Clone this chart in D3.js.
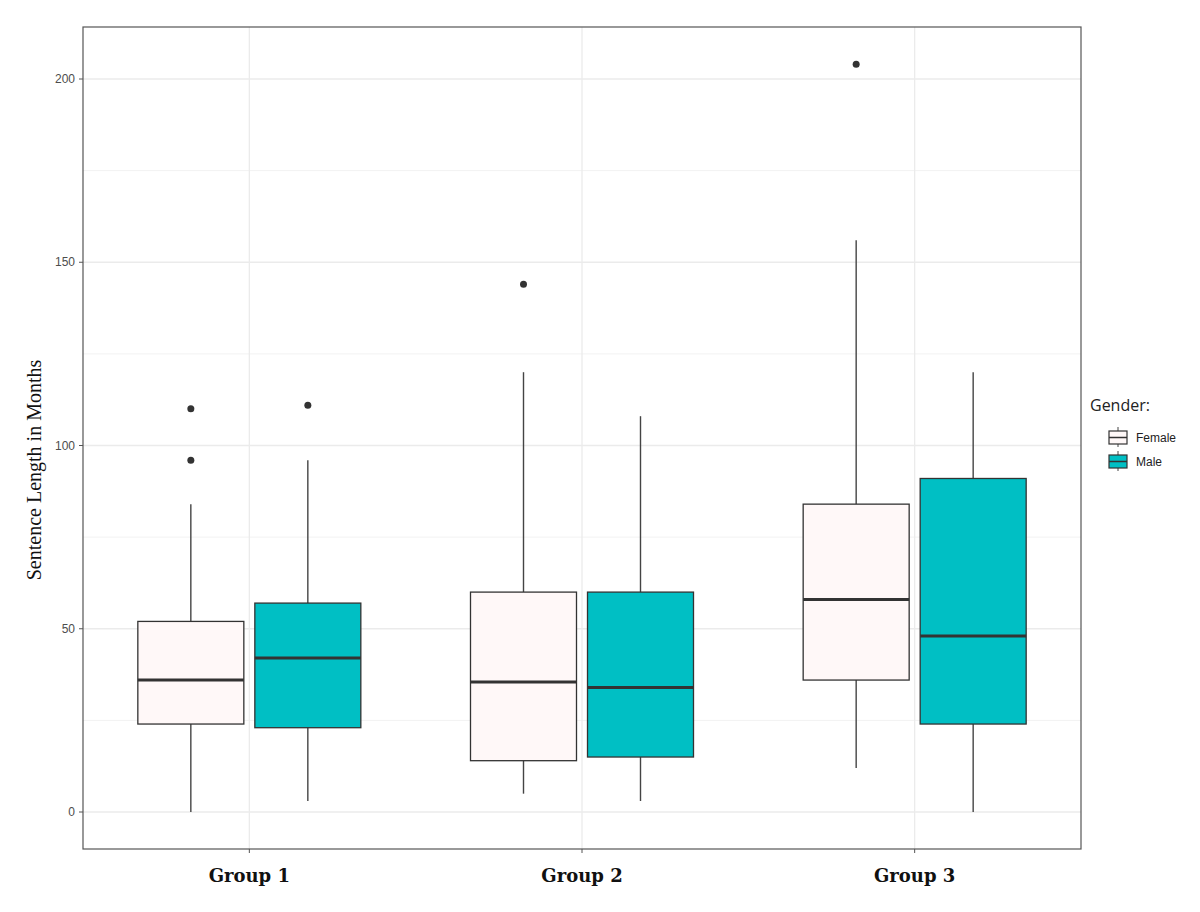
<!DOCTYPE html>
<html><head><meta charset="utf-8">
<script src="https://cdn.jsdelivr.net/npm/d3@7"></script>
<style>body{margin:0;background:#fff}</style>
</head><body>
<svg id="c" width="1200" height="912"></svg>
<script>
const groups = ["Group 1","Group 2","Group 3"];
const genders = ["Female","Male"];
const colors = ["#fff8f8","#00bfc4"];
// [group, gender, lowWhisker, q1, median, q3, highWhisker]
const boxes = [
  ["Group 1","Female",0,24,36,52,84],
  ["Group 1","Male",3,23,42,57,96],
  ["Group 2","Female",5,14,35.5,60,120],
  ["Group 2","Male",3,15,34,60,108],
  ["Group 3","Female",12,36,58,84,156],
  ["Group 3","Male",0,24,48,91,120]
];
const outliers = [
  ["Group 1","Female",96],["Group 1","Female",110],
  ["Group 1","Male",111],["Group 2","Female",144],["Group 3","Female",204]
];
const yTicks = [0,50,100,150,200];
const yMinor = [25,75,125,175];

const svg = d3.select("#c");
const L=83,R=1081,T=27,B=849;
const y = d3.scaleLinear().domain([0,200]).range([812,79]);
const x = d3.scaleBand().domain(groups).range([L,R]).paddingInner(0.25).paddingOuter(0.125);
const xs = d3.scaleBand().domain(genders).range([0,x.bandwidth()]).paddingInner(0.1);
// recompute: center spacing
const g = svg.append("g");
yMinor.forEach(v=>g.append("line").attr("x1",L).attr("x2",R).attr("y1",y(v)).attr("y2",y(v)).attr("stroke","#f2f2f2").attr("stroke-width",1));
yTicks.forEach(v=>g.append("line").attr("x1",L).attr("x2",R).attr("y1",y(v)).attr("y2",y(v)).attr("stroke","#ebebeb").attr("stroke-width",1.3));
groups.forEach(gr=>{const cx=x(gr)+x.bandwidth()/2;g.append("line").attr("x1",cx).attr("x2",cx).attr("y1",T).attr("y2",B).attr("stroke","#ebebeb").attr("stroke-width",1.3);});

const bw = 106, off = 58.5;
const cxOf=(gr,ge)=>x(gr)+x.bandwidth()/2+(ge==="Female"?-off:off);
boxes.forEach(b=>{
  const cx=cxOf(b[0],b[1]);
  g.append("line").attr("x1",cx).attr("x2",cx).attr("y1",y(b[2])).attr("y2",y(b[3])).attr("stroke","#444").attr("stroke-width",1.4);
  g.append("line").attr("x1",cx).attr("x2",cx).attr("y1",y(b[5])).attr("y2",y(b[6])).attr("stroke","#444").attr("stroke-width",1.4);
  g.append("rect").attr("x",cx-bw/2).attr("width",bw).attr("y",y(b[5])).attr("height",y(b[3])-y(b[5]))
   .attr("fill",colors[genders.indexOf(b[1])]).attr("stroke","#333").attr("stroke-width",1.3);
  g.append("line").attr("x1",cx-bw/2).attr("x2",cx+bw/2).attr("y1",y(b[4])).attr("y2",y(b[4])).attr("stroke","#333").attr("stroke-width",3);
});
outliers.forEach(o=>g.append("circle").attr("cx",cxOf(o[0],o[1])).attr("cy",y(o[2])).attr("r",3.5).attr("fill","#333"));

svg.append("rect").attr("x",L).attr("y",T).attr("width",R-L).attr("height",B-T).attr("fill","none").attr("stroke","#555").attr("stroke-width",1.2);

yTicks.forEach(v=>{
  svg.append("line").attr("x1",L-4).attr("x2",L).attr("y1",y(v)).attr("y2",y(v)).attr("stroke","#555");
  svg.append("text").attr("x",L-8).attr("y",y(v)+4).attr("text-anchor","end").attr("font-family","Liberation Sans, Arial").attr("font-size",12).attr("fill","#4d4d4d").text(v);
});
groups.forEach(gr=>{
  const cx=x(gr)+x.bandwidth()/2;
  svg.append("line").attr("x1",cx).attr("x2",cx).attr("y1",B).attr("y2",B+4).attr("stroke","#555");
  svg.append("text").attr("x",cx).attr("y",882).attr("text-anchor","middle").attr("font-family","DejaVu Serif, Liberation Serif").attr("font-weight","bold").attr("font-size",18).attr("fill","#111").text(gr);
});
svg.append("text").attr("transform","translate(41,470) rotate(-90)").attr("text-anchor","middle").attr("font-family","Liberation Serif, serif").attr("font-size",20).attr("fill","#111").text("Sentence Length in Months");

svg.append("text").attr("x",1090).attr("y",411).attr("font-family","Open Sans, DejaVu Sans").attr("font-size",16).attr("fill","#222").text("Gender:");
genders.forEach((ge,i)=>{
  const yy=430+i*24;
  svg.append("line").attr("x1",1118).attr("x2",1118).attr("y1",yy-3).attr("y2",yy+17).attr("stroke","#444");
  svg.append("rect").attr("x",1109).attr("y",yy+1).attr("width",18).attr("height",13).attr("fill",colors[i]).attr("stroke","#333").attr("stroke-width",1.2);
  svg.append("line").attr("x1",1109).attr("x2",1127).attr("y1",yy+7.5).attr("y2",yy+7.5).attr("stroke","#333").attr("stroke-width",1.5);
  svg.append("text").attr("x",1136).attr("y",yy+12).attr("font-family","Liberation Sans, Arial").attr("font-size",12).attr("fill","#222").text(ge);
});
</script>
</body></html>
